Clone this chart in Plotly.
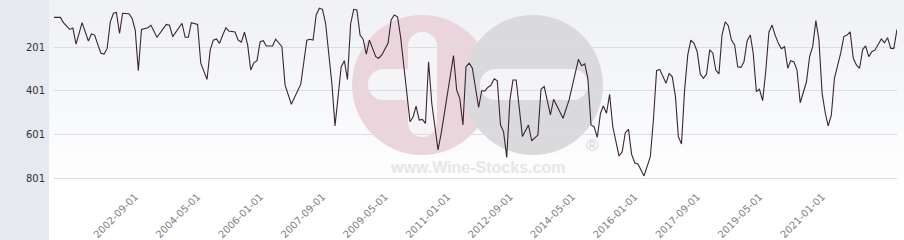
import plotly.graph_objects as go

# ---- data ----
dates = [
    "2000-07-01", "2000-08-01", "2000-09-01", "2000-10-01", "2000-12-01", "2001-01-01", "2001-02-01", "2001-04-01", "2001-06-01", "2001-07-01",
    "2001-08-01", "2001-10-01", "2001-11-01", "2001-12-01", "2002-01-01", "2002-02-01", "2002-03-01", "2002-04-01", "2002-05-01", "2002-07-01",
    "2002-08-01", "2002-09-01", "2002-10-01", "2002-11-01", "2003-01-01", "2003-02-01", "2003-04-01", "2003-07-01", "2003-08-01", "2003-09-01",
    "2003-12-01", "2004-01-01", "2004-02-01", "2004-03-01", "2004-05-01", "2004-06-01", "2004-08-01", "2004-09-01", "2004-10-01", "2004-11-01",
    "2004-12-01", "2005-01-01", "2005-02-01", "2005-03-01", "2005-05-01", "2005-06-01", "2005-07-01", "2005-08-01", "2005-09-01", "2005-10-01",
    "2005-11-01", "2005-12-01", "2006-01-01", "2006-02-01", "2006-03-01", "2006-05-01", "2006-06-01", "2006-08-01", "2006-09-01", "2006-11-01",
    "2007-02-01", "2007-04-01", "2007-05-01", "2007-06-01", "2007-07-01", "2007-08-01", "2007-09-01", "2007-10-01", "2007-12-01", "2008-01-01",
    "2008-03-01", "2008-04-01", "2008-05-01", "2008-06-01", "2008-07-01", "2008-08-01", "2008-09-01", "2008-10-01", "2008-11-01", "2008-12-01",
    "2009-02-01", "2009-03-01", "2009-04-01", "2009-06-01", "2009-07-01", "2009-08-01", "2009-09-01", "2009-10-01", "2009-12-01", "2010-01-01",
    "2010-02-01", "2010-03-01", "2010-04-01", "2010-05-01", "2010-06-01", "2010-07-01", "2010-08-01", "2010-10-01", "2010-11-01", "2011-02-01",
    "2011-03-01", "2011-04-01", "2011-05-01", "2011-06-01", "2011-07-01", "2011-08-01", "2011-09-01", "2011-11-01", "2011-12-01", "2012-01-01",
    "2012-02-01", "2012-03-01", "2012-04-01", "2012-05-01", "2012-06-01", "2012-07-01", "2012-08-01", "2012-09-01", "2012-10-01", "2012-11-01",
    "2012-12-01", "2013-01-01", "2013-03-01", "2013-04-01", "2013-06-01", "2013-07-01", "2013-08-01", "2013-10-01", "2013-11-01", "2014-02-01",
    "2014-04-01", "2014-06-01", "2014-07-01", "2014-08-01", "2014-09-01", "2014-10-01", "2014-11-01", "2014-12-01", "2015-01-01", "2015-02-01",
    "2015-03-01", "2015-04-01", "2015-05-01", "2015-06-01", "2015-08-01", "2015-09-01", "2015-10-01", "2015-11-01", "2015-12-01", "2016-01-01",
    "2016-02-01", "2016-04-01", "2016-06-01", "2016-07-01", "2016-08-01", "2016-09-01", "2016-11-01", "2016-12-01", "2017-01-01", "2017-02-01",
    "2017-03-01", "2017-04-01", "2017-05-01", "2017-06-01", "2017-07-01", "2017-08-01", "2017-09-01", "2017-10-01", "2017-11-01", "2017-12-01",
    "2018-01-01", "2018-02-01", "2018-03-01", "2018-04-01", "2018-05-01", "2018-06-01", "2018-07-01", "2018-08-01", "2018-09-01", "2018-10-01",
    "2018-11-01", "2018-12-01", "2019-01-01", "2019-02-01", "2019-03-01", "2019-04-01", "2019-05-01", "2019-06-01", "2019-07-01", "2019-08-01",
    "2019-09-01", "2019-10-01", "2019-11-01", "2019-12-01", "2020-01-01", "2020-02-01", "2020-03-01", "2020-04-01", "2020-05-01", "2020-06-01",
    "2020-08-01", "2020-09-01", "2020-10-01", "2020-11-01", "2020-12-01", "2021-01-01", "2021-02-01", "2021-03-01", "2021-04-01", "2021-05-01",
    "2021-06-01", "2021-07-01", "2021-08-01", "2021-09-01", "2021-10-01", "2021-11-01", "2021-12-01", "2022-01-01", "2022-02-01", "2022-03-01",
    "2022-04-01", "2022-05-01", "2022-06-01", "2022-08-01", "2022-09-01", "2022-10-01", "2022-11-01", "2022-12-01", "2023-01-01",
]

ranks = [
    64, 65, 64, 88, 119, 113, 186, 88, 172, 140,
    145, 228, 232, 206, 84, 45, 41, 137, 45, 47,
    68, 122, 308, 119, 111, 100, 155, 96, 100, 152,
    91, 155, 155, 88, 96, 274, 348, 213, 168, 163,
    183, 145, 111, 126, 131, 168, 177, 132, 190, 305,
    272, 262, 175, 171, 195, 195, 164, 198, 374, 462,
    370, 168, 164, 168, 53, 22, 27, 91, 366, 561,
    290, 262, 348, 94, 27, 30, 145, 164, 232, 168,
    244, 251, 236, 183, 76, 53, 61, 152, 412, 542,
    519, 470, 534, 531, 549, 267, 457, 671, 595, 313,
    239, 397, 435, 557, 290, 274, 297, 476, 400, 401,
    384, 374, 345, 354, 557, 587, 705, 442, 351, 351,
    473, 610, 557, 629, 603, 393, 381, 511, 439, 526,
    442, 313, 256, 285, 277, 343, 557, 565, 613, 503,
    470, 503, 416, 565, 699, 679, 592, 577, 690, 730,
    735, 790, 702, 534, 308, 302, 366, 320, 336, 427,
    610, 644, 397, 236, 168, 183, 221, 323, 343, 323,
    213, 228, 305, 323, 145, 84, 102, 168, 190, 290,
    293, 267, 171, 145, 228, 404, 393, 445, 313, 132,
    99, 145, 183, 207, 198, 297, 262, 268, 305, 455,
    360, 244, 198, 79, 168, 412, 503, 561, 511, 343,
    290, 228, 152, 145, 130, 251, 282, 297, 210, 194,
    244, 221, 213, 163, 180, 157, 206, 206, 119,
]

x_ticks = ["2002-09-01", "2004-05-01", "2006-01-01", "2007-09-01", "2009-05-01", "2011-01-01",
           "2012-09-01", "2014-05-01", "2016-01-01", "2017-09-01", "2019-05-01", "2021-01-01"]
y_ticks = [201, 401, 601, 801]

# ---- layout geometry (pixels) ----
W, H = 904, 240
L, R, T, B = 54, 7, 0, 52
PW, PH = W - L - R, H - T - B


def PX(px):
    return (px - L) / PW


def PY(py):
    return (H - B - py) / PH


fig = go.Figure()
fig.add_trace(go.Scatter(
    x=dates, y=ranks, mode="lines",
    line=dict(color="#3b2531", width=1.1),
    hoverinfo="x+y",
))

shapes = []
# left grey band
shapes.append(dict(type="rect", xref="paper", yref="paper", layer="below",
                   x0=PX(0), x1=PX(49), y0=PY(H), y1=PY(0),
                   fillcolor="#e6e9ed", line=dict(width=0)))
# vertical gradient background of the plot
N = 24
top = (239, 241, 245)
bot = (255, 255, 255)
for i in range(N):
    t = i / (N - 1)
    c = tuple(round(top[k] + (bot[k] - top[k]) * t) for k in range(3))
    y0 = 198 * i / N
    y1 = 198 * (i + 1) / N + 0.5
    shapes.append(dict(type="rect", xref="paper", yref="paper", layer="below",
                       x0=PX(49), x1=PX(W), y0=PY(y1), y1=PY(y0),
                       fillcolor="rgb(%d,%d,%d)" % c, line=dict(width=0)))


def circle(cx, cy, r, color):
    return dict(type="circle", xref="paper", yref="paper", layer="below",
                x0=PX(cx - r), x1=PX(cx + r), y0=PY(cy + r), y1=PY(cy - r),
                fillcolor=color, line=dict(width=0))


def rbar(x0, x1, y0, y1, color):
    # rounded bar: rect + end caps
    out = []
    r = min(x1 - x0, y1 - y0) / 2
    if (x1 - x0) >= (y1 - y0):
        out.append(dict(type="rect", xref="paper", yref="paper", layer="below",
                        x0=PX(x0 + r), x1=PX(x1 - r), y0=PY(y1), y1=PY(y0),
                        fillcolor=color, line=dict(width=0)))
        out.append(circle(x0 + r, (y0 + y1) / 2, r, color))
        out.append(circle(x1 - r, (y0 + y1) / 2, r, color))
    else:
        out.append(dict(type="rect", xref="paper", yref="paper", layer="below",
                        x0=PX(x0), x1=PX(x1), y0=PY(y1 - r), y1=PY(y0 + r),
                        fillcolor=color, line=dict(width=0)))
        out.append(circle((x0 + x1) / 2, y0 + r, r, color))
        out.append(circle((x0 + x1) / 2, y1 - r, r, color))
    return out


# watermark
shapes.append(circle(422, 85, 70, "#ebd5dc"))
shapes.append(circle(533, 85, 70, "#dadadd"))
wm_white = "#f5f5f8"
shapes += rbar(408, 437, 32, 137, wm_white)
shapes += rbar(368, 430, 69, 100, wm_white)
shapes += rbar(480, 588, 69, 100, wm_white)

fig.update_layout(
    width=W, height=H,
    margin=dict(l=L, r=R, t=T, b=B, pad=0, autoexpand=False),
    paper_bgcolor="white",
    plot_bgcolor="rgba(0,0,0,0)",
    showlegend=False,
    shapes=shapes,
    font=dict(family="DejaVu Sans", size=10, color="#333333"),
    annotations=[
        dict(text="<b>www.Wine-Stocks.com</b>", xref="paper", yref="paper",
             x=PX(477), y=PY(167), showarrow=False, xanchor="center", yanchor="middle",
             font=dict(family="Liberation Sans", size=16, color="#e6e6e9")),
        dict(text="®", xref="paper", yref="paper",
             x=PX(592), y=PY(145), showarrow=False, xanchor="center", yanchor="middle",
             font=dict(family="Liberation Sans", size=17, color="#d5d5d8")),
    ],
    xaxis=dict(
        type="date",
        range=["2000-07-01", "2023-01-01"],
        tickvals=x_ticks,
        ticktext=x_ticks,
        tickangle=-45,
        automargin=False,
        showgrid=False, zeroline=False, showline=False,
        ticks="",
        tickfont=dict(family="DejaVu Sans", size=10, color="#808080"),
    ),
    yaxis=dict(
        range=[845.4, -15.7],
        tickvals=y_ticks,
        ticktext=[str(v) for v in y_ticks],
        automargin=False,
        showgrid=True, gridcolor="#dcdde1", gridwidth=1,
        zeroline=False, showline=False,
        ticks="",
        ticklabelstandoff=8,
        tickfont=dict(family="DejaVu Sans", size=10, color="#333333"),
    ),
)

fig.write_html("out.html")
